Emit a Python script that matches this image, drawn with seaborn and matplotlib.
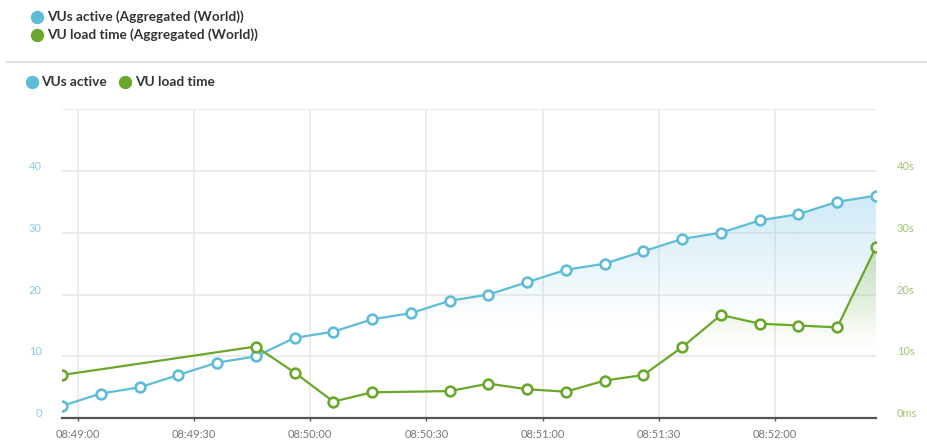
import numpy as np
import pandas as pd
import seaborn as sns
import matplotlib.pyplot as plt
import matplotlib.dates as mdates
from matplotlib.colors import to_rgb
from matplotlib.patches import Polygon
from matplotlib.transforms import ScaledTranslation

# Sample timestamps (10 s apart)
times = ["08:48:56", "08:49:06", "08:49:16", "08:49:26", "08:49:36", "08:49:46",
         "08:49:56", "08:50:06", "08:50:16", "08:50:26", "08:50:36", "08:50:46",
         "08:50:56", "08:51:06", "08:51:16", "08:51:26", "08:51:36", "08:51:46",
         "08:51:56", "08:52:06", "08:52:16", "08:52:26"]

# VUs active (left axis)
vus_active = [2, 4, 5, 7, 9, 10, 13, 14, 16, 17, 19, 20, 22, 24, 25, 27,
              29, 30, 32, 33, 35, 36]

# VU load time in seconds (right axis), None = no sample
load_time_s = [7.0, None, None, None, None, 11.6, 7.4, 2.7, 4.2, None, 4.4,
               5.6, 4.7, 4.3, 6.1, 7.0, 11.5, 16.7, 15.3, 15.0, 14.7, 27.7]

x_ticks = ["08:49:00", "08:49:30", "08:50:00", "08:50:30", "08:51:00",
           "08:51:30", "08:52:00"]
left_ticks = [0, 10, 20, 30, 40]
right_labels = ["0ms", "10s", "20s", "30s", "40s"]

BLUE = "#5dbcd7"
GREEN = "#6aa82c"
FONT = "Lato"

df = pd.DataFrame({
    "time": pd.to_datetime(["2020-01-01 " + t for t in times]),
    "vus": vus_active,
    "load": pd.Series(load_time_s, dtype=float),
})
df_load = df.dropna(subset=["load"])

sns.set_style("white")
plt.rcParams["font.family"] = [FONT, "DejaVu Sans"]

fig = plt.figure(figsize=(9.27, 4.45), dpi=100)
ax = fig.add_axes([62 / 927, 26.7 / 445, (876 - 62) / 927, (418.3 - 109) / 445])
ax2 = ax.twinx()


def gradient_fill(axis, xs, ys, color, bottom, alpha):
    # vertical fade under a line, clipped to the area below it
    xn = mdates.date2num(xs)
    ys = np.asarray(ys, dtype=float)
    rgba = np.zeros((100, 1, 4))
    rgba[:, :, :3] = to_rgb(color)
    rgba[:, 0, 3] = np.linspace(alpha, 0, 100)
    im = axis.imshow(rgba, aspect="auto", origin="upper", zorder=1,
                     extent=[xn.min(), xn.max(), bottom, ys.max()])
    verts = [(xn[0], 0)] + list(zip(xn, ys)) + [(xn[-1], 0)]
    poly = Polygon(verts, transform=axis.transData, facecolor="none", edgecolor="none")
    axis.add_patch(poly)
    im.set_clip_path(poly)


gradient_fill(ax, df["time"], df["vus"], "#a9d9ee", 15, 0.55)
gradient_fill(ax2, df_load["time"], df_load["load"], "#a3c97e", 11, 0.5)

sns.lineplot(data=df, x="time", y="vus", ax=ax, color=BLUE, linewidth=1.6,
             marker="o", markersize=7, markerfacecolor="white",
             markeredgecolor=BLUE, markeredgewidth=1.9, zorder=3)
sns.lineplot(data=df_load, x="time", y="load", ax=ax2, color=GREEN, linewidth=1.6,
             marker="o", markersize=7, markerfacecolor="white",
             markeredgecolor=GREEN, markeredgewidth=1.9, zorder=3)

xmin, xmax = df["time"].min(), df["time"].max()
for a in (ax, ax2):
    a.set_xlim(xmin, xmax)
    a.set_ylim(0, 50)
    a.set_xlabel("")
    a.set_ylabel("")
    for s in a.spines.values():
        s.set_visible(False)

# grid and ticks
ax.set_axisbelow(True)
ax.set_yticks([0, 10, 20, 30, 40, 50])
ax.set_yticklabels([str(v) for v in left_ticks] + [""])
ax.grid(True, axis="both", color="#e6e6e6", linewidth=1.1)
ax.set_xticks(pd.to_datetime(["2020-01-01 " + t for t in x_ticks]))
ax.xaxis.set_major_formatter(mdates.DateFormatter("%H:%M:%S"))
ax.spines["bottom"].set_visible(True)
ax.spines["bottom"].set_color("#555555")
ax.spines["bottom"].set_linewidth(1.6)
ax.tick_params(axis="x", bottom=True, length=2.5, width=1, color="#555555",
               pad=5, labelsize=8, labelcolor="#777777")
ax.tick_params(axis="y", left=False, pad=11, labelsize=8, labelcolor="#8ccbe0")

ax2.set_yticks([0, 10, 20, 30, 40])
ax2.set_yticklabels(right_labels)
ax2.tick_params(axis="y", right=False, pad=11.5, labelsize=8, labelcolor="#9fc673")
ax2.grid(False)

shift = ScaledTranslation(0, 5.5 / 100, fig.dpi_scale_trans)
for lab in ax.get_yticklabels() + ax2.get_yticklabels():
    lab.set_transform(lab.get_transform() + shift)

# header legends
ov = fig.add_axes([0, 0, 1, 1], zorder=5)
ov.set_xlim(0, 927)
ov.set_ylim(445, 0)
ov.axis("off")
ov.patch.set_visible(False)

legend_color = "#333333"
leg_size = 9.8
ov.plot([36.7], [16.7], "o", color=BLUE, markersize=8.6)
ov.text(47, 16.7, "VUs active (Aggregated (World))", va="center", ha="left",
        fontsize=leg_size, fontweight="bold", color=legend_color)
ov.plot([36.7], [35], "o", color=GREEN, markersize=8.6)
ov.text(47, 35, "VU load time (Aggregated (World))", va="center", ha="left",
        fontsize=leg_size, fontweight="bold", color=legend_color)
ov.plot([7, 927], [61.7, 61.7], color="#dedede", linewidth=1.5)
ov.plot([31.7], [81.7], "o", color=BLUE, markersize=8.6)
ov.text(41.5, 81.7, "VUs active", va="center", ha="left",
        fontsize=leg_size, fontweight="bold", color=legend_color)
ov.plot([125], [81.7], "o", color=GREEN, markersize=8.6)
ov.text(135, 81.7, "VU load time", va="center", ha="left",
        fontsize=leg_size, fontweight="bold", color=legend_color)

fig.savefig("out.png", dpi=100)
